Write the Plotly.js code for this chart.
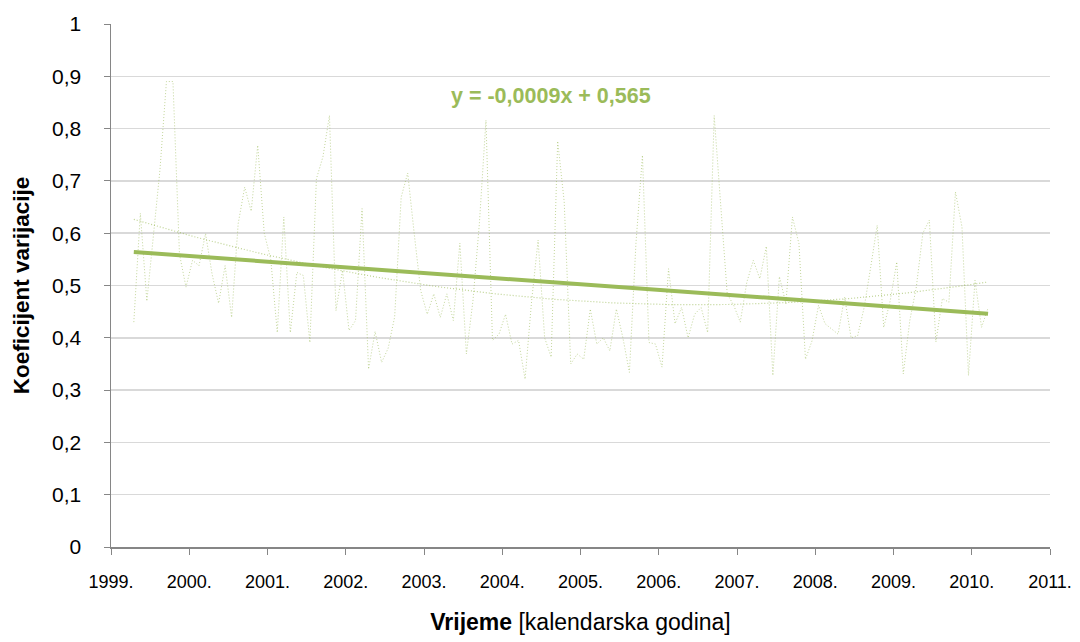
<!DOCTYPE html>
<html>
<head>
<meta charset="utf-8">
<script src="https://cdn.plot.ly/plotly-3.0.1.min.js"></script>
<style>html,body{margin:0;padding:0;background:#fff;}#chart{width:1080px;height:642px;}</style>
</head>
<body>
<div id="chart"></div>
<script>
// Monthly coefficient of variation, starting April 1999
const startYear = 1999;
const startMonth = 4;
const cvValues = [
0.43,0.638,0.47,0.60,0.72,0.89,0.89,0.56,0.497,0.548,0.538,0.599,
0.522,0.466,0.538,0.439,0.618,0.688,0.642,0.768,0.60,0.55,0.41,0.631,
0.41,0.525,0.519,0.391,0.704,0.746,0.825,0.452,0.529,0.414,0.433,0.647,
0.34,0.412,0.353,0.38,0.44,0.669,0.715,0.599,0.49,0.445,0.484,0.439,
0.484,0.433,0.581,0.369,0.47,0.62,0.816,0.395,0.407,0.445,0.388,0.395,
0.321,0.47,0.587,0.40,0.363,0.776,0.66,0.35,0.369,0.359,0.455,0.388,
0.40,0.375,0.455,0.40,0.334,0.58,0.749,0.391,0.388,0.344,0.532,0.427,
0.458,0.40,0.445,0.458,0.41,0.825,0.65,0.484,0.462,0.43,0.506,0.548,
0.513,0.575,0.328,0.517,0.465,0.631,0.58,0.359,0.394,0.462,0.427,0.417,
0.407,0.478,0.40,0.404,0.458,0.535,0.615,0.42,0.471,0.545,0.331,0.433,
0.497,0.60,0.625,0.392,0.475,0.468,0.679,0.612,0.328,0.51,0.42,0.457
];
// Linear trend shown on the chart: y = -0,0009x + 0,565 (x = point index)
const trendSlope = -0.0009;
const trendIntercept = 0.565;
const trendLabel = 'y = -0,0009x + 0,565';
const yearTicks = [1999,2000,2001,2002,2003,2004,2005,2006,2007,2008,2009,2010,2011];
const yearLabels = ['1999.','2000.','2001.','2002.','2003.','2004.','2005.','2006.','2007.','2008.','2009.','2010.','2011.'];

// x positions: mid-month in decimal years
const xs = cvValues.map((v, i) => startYear + (startMonth - 1 + 0.5 + i) / 12);
const idx = cvValues.map((v, i) => i + 1);

// linear trend
const linY = idx.map(i => trendSlope * i + trendIntercept);

// 2nd order polynomial least-squares trend (computed from the data)
function polyFit2(x, y) {
  let S = [0,0,0,0,0], T = [0,0,0];
  for (let i = 0; i < x.length; i++) {
    let p = 1;
    for (let k = 0; k < 5; k++) { S[k] += p; if (k < 3) T[k] += p * y[i]; p *= x[i]; }
  }
  const A = [[S[0],S[1],S[2],T[0]],[S[1],S[2],S[3],T[1]],[S[2],S[3],S[4],T[2]]];
  for (let c = 0; c < 3; c++) {
    for (let r = c + 1; r < 3; r++) {
      const f = A[r][c] / A[c][c];
      for (let k = c; k < 4; k++) A[r][k] -= f * A[c][k];
    }
  }
  const b = [0,0,0];
  for (let r = 2; r >= 0; r--) {
    let s = A[r][3];
    for (let k = r + 1; k < 3; k++) s -= A[r][k] * b[k];
    b[r] = s / A[r][r];
  }
  return b;
}
const pc = polyFit2(idx, cvValues);
const polyY = idx.map(i => pc[0] + pc[1] * i + pc[2] * i * i);

const green = '#9BBB59';
const font = 'Liberation Sans, Arial, sans-serif';

const traces = [
  { x: xs, y: cvValues, type: 'scatter', mode: 'lines',
    line: { color: 'rgba(155,187,89,0.6)', width: 1, dash: '1px,2px' }, hoverinfo: 'skip' },
  { x: xs, y: polyY, type: 'scatter', mode: 'lines',
    line: { color: 'rgba(155,187,89,0.65)', width: 1.2, dash: '1px,2px' }, hoverinfo: 'skip' },
  { x: xs, y: linY, type: 'scatter', mode: 'lines',
    line: { color: green, width: 4 }, hoverinfo: 'skip' }
];

const layout = {
  width: 1080, height: 642,
  margin: { l: 111, r: 30, t: 24, b: 95 },
  paper_bgcolor: '#fff', plot_bgcolor: '#fff',
  showlegend: false,
  separators: ', ',
  font: { family: font, size: 18, color: '#000' },
  xaxis: {
    range: [1999, 2011], tickmode: 'array', tickvals: yearTicks, ticktext: yearLabels,
    showgrid: false, zeroline: false, showline: true, linecolor: '#868686', linewidth: 1.5,
    ticks: 'outside', ticklen: 6, tickcolor: '#868686', tickwidth: 1,
    ticklabelstandoff: 12,
    tickfont: { family: font, size: 18, color: '#000' },
    title: { text: '<b>Vrijeme</b> [kalendarska godina]', font: { family: font, size: 23, color: '#000' }, standoff: 23 }
  },
  yaxis: {
    range: [0, 1], dtick: 0.1, tick0: 0,
    showgrid: true, gridcolor: '#d9d9d9', gridwidth: 1.5, zeroline: false,
    showline: true, linecolor: '#868686', linewidth: 1.5,
    ticks: 'outside', ticklen: 6, tickcolor: '#868686', tickwidth: 1,
    ticklabelstandoff: 18,
    tickfont: { family: font, size: 21, color: '#000' },
    title: { text: '<b>Koeficijent varijacije</b>', font: { family: font, size: 22.5, color: '#000' }, standoff: 16 }
  },
  annotations: [{
    x: 2004.62, y: 0.862, xref: 'x', yref: 'y', text: '<b>' + trendLabel + '</b>',
    showarrow: false, font: { family: font, size: 21.5, color: green }
  }]
};

Plotly.newPlot('chart', traces, layout, { staticPlot: true, displayModeBar: false });
</script>
</body>
</html>
